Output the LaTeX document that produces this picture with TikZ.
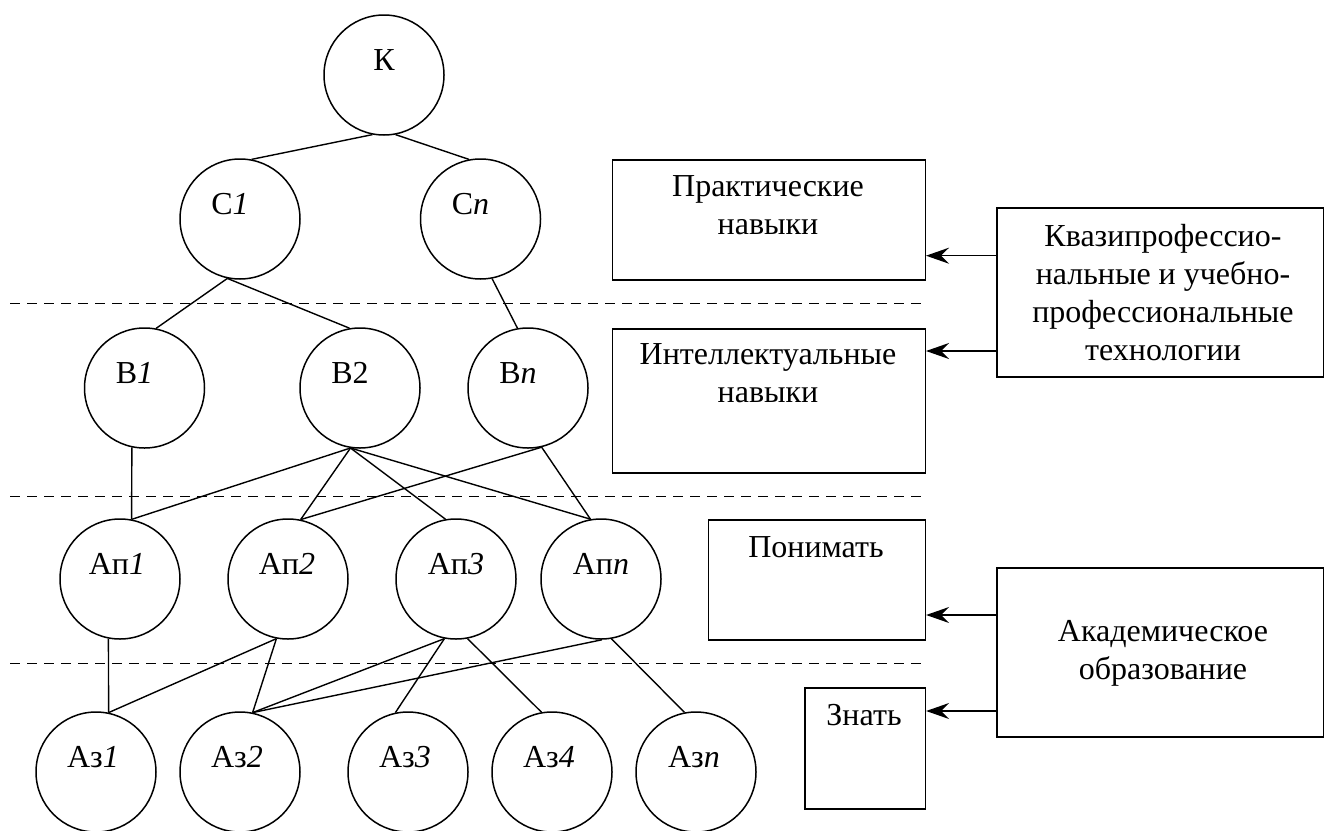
\documentclass[tikz,border=0pt]{standalone}
\usepackage{fontspec}
\setmainfont{Liberation Serif}
\usetikzlibrary{arrows.meta}
\newcommand{\ml}[1]{\begin{tabular}[t]{@{}c@{}}#1\end{tabular}}
\newcommand{\cnode}[5]{%
  \node[circ] (#1) at (#2,#3) {};
  \node[lab] (#1t) at ([xshift=#5pt,yshift=5pt]#1.center) {#4};}
\begin{document}
\begin{tikzpicture}[x=1pt,y=-1pt,
  circ/.style={draw, circle, line width=1.5pt, minimum size=120pt, inner sep=0pt},
  lab/.style={anchor=base, inner sep=0pt, font=\fontsize{32}{38}\selectfont},
  box/.style={draw, rectangle, line width=1.5pt, inner sep=0pt, anchor=north west},
  edge/.style={line width=1.4pt},
  sep/.style={dash pattern=on 10pt off 7pt, line width=1pt},
  arr/.style={line width=1.5pt, -{Stealth[length=23pt,width=16pt,inset=8pt]}}]
\useasboundingbox (0,0) rectangle (1324,830);

% circles
\cnode{K}{384}{75}{К}{0}
\cnode{C1}{240}{219}{С\textit{1}}{-10}
\cnode{Cn}{480.5}{219}{С\textit{n}}{-10}
\cnode{B1}{144.5}{388}{В\textit{1}}{-10}
\cnode{B2}{360}{388}{В2}{-10}
\cnode{Bn}{528}{388}{В\textit{n}}{-10}
\cnode{Ap1}{120}{579}{Ап\textit{1}}{-3}
\cnode{Ap2}{288}{579}{Ап\textit{2}}{-1}
\cnode{Ap3}{456}{579}{Ап\textit{3}}{0}
\cnode{Apn}{601}{579}{Ап\textit{n}}{0}
\cnode{Az1}{96}{772}{Аз\textit{1}}{-3}
\cnode{Az2}{240}{772}{Аз\textit{2}}{-3}
\cnode{Az3}{408}{772}{Аз\textit{3}}{-3}
\cnode{Az4}{552}{772}{Аз\textit{4}}{-3}
\cnode{Azn}{696}{772}{Аз\textit{n}}{-2}

% tree edges
\draw[edge] (K.259) -- (C1.79);
\draw[edge] (K.281) -- (Cn.101);
\draw[edge] (C1.258) -- (B1.79);
\draw[edge] (C1.258) -- (B2.100);
\draw[edge] (Cn.281) -- (Bn.100);
\draw[edge] (B1.258) -- (Ap1.79);
\draw[edge] (B2.261) -- (Ap1.79);
\draw[edge] (B2.261) -- (Ap2.78);
\draw[edge] (B2.261) -- (Ap3.100);
\draw[edge] (B2.261) -- (Apn.100);
\draw[edge] (Bn.283) -- (Ap2.78);
\draw[edge] (Bn.283) -- (Apn.100);
\draw[edge] (Ap1.259) -- (Az1.78);
\draw[edge] (Ap2.259) -- (Az1.78);
\draw[edge] (Ap2.259) -- (Az2.78);
\draw[edge] (Ap3.259) -- (Az2.78);
\draw[edge] (Ap3.259) -- (Az3.102);
\draw[edge] (Ap3.281) -- (Az4.100);
\draw[edge] (Apn.271) -- (Az2.78);
\draw[edge] (Apn.280) -- (Azn.101);

% dashed separators
\coordinate (d1s) at (10,303);  \coordinate (d1e) at (924,303);
\coordinate (d2s) at (10,496);  \coordinate (d2e) at (924,496);
\coordinate (d3s) at (10,663);  \coordinate (d3e) at (924,663);
\draw[sep] (d1s) -- (d1e);
\draw[sep] (d2s) -- (d2e);
\draw[sep] (d3s) -- (d3e);

% boxes
\node[box, minimum width=313pt, minimum height=120pt] (prak) at (611.5,159) {};
\node[box, minimum width=313pt, minimum height=144pt] (intel) at (611.5,328) {};
\node[box, minimum width=326.5pt, minimum height=169pt] (kvazi) at (996,207) {};
\node[box, minimum width=217pt, minimum height=120pt] (ponim) at (707.6,519) {};
\node[box, minimum width=120.6pt, minimum height=121pt] (znat) at (804,687) {};
\node[box, minimum width=326.5pt, minimum height=169pt] (akad) at (996,567) {};

\node[lab] (prakt) at (768,196) {\ml{Практические\\навыки}};
\node[lab] (intelt) at (768,364) {\ml{Интеллектуальные\\навыки}};
\node[lab] (kvazit) at (1163,246) {\ml{Квазипрофессио-\\нальные и учебно-\\профессиональные\\технологии}};
\node[lab] (ponimt) at (816,557) {Понимать};
\node[lab] (znatt) at (864,725) {Знать};
\node[lab] (akadt) at (1163,641) {\ml{Академическое\\образование}};

% arrows
\coordinate (a1) at (996,255.7);
\coordinate (a2) at (996,351);
\coordinate (a3) at (996,615);
\coordinate (a4) at (996,711);
\draw[arr] (a1) -- (a1 -| prak.east);
\draw[arr] (a2) -- (a2 -| intel.east);
\draw[arr] (a3) -- (a3 -| ponim.east);
\draw[arr] (a4) -- (a4 -| znat.east);
\end{tikzpicture}
\end{document}
